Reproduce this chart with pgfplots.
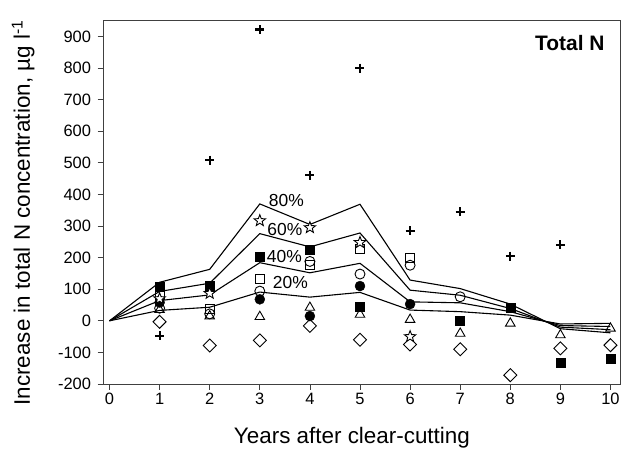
\documentclass[border=0pt]{standalone}
\usepackage{fontspec}
\setmainfont{Liberation Sans}
\usepackage{pgfplots}
\pgfplotsset{compat=1.18}
% open five-pointed star
\pgfdeclareplotmark{ostar}{%
  \pgfpathmoveto{\pgfpointpolar{90}{\pgfplotmarksize}}%
  \pgfpathlineto{\pgfpointpolar{126}{0.42\pgfplotmarksize}}%
  \pgfpathlineto{\pgfpointpolar{162}{\pgfplotmarksize}}%
  \pgfpathlineto{\pgfpointpolar{198}{0.42\pgfplotmarksize}}%
  \pgfpathlineto{\pgfpointpolar{234}{\pgfplotmarksize}}%
  \pgfpathlineto{\pgfpointpolar{270}{0.42\pgfplotmarksize}}%
  \pgfpathlineto{\pgfpointpolar{306}{\pgfplotmarksize}}%
  \pgfpathlineto{\pgfpointpolar{342}{0.42\pgfplotmarksize}}%
  \pgfpathlineto{\pgfpointpolar{18}{\pgfplotmarksize}}%
  \pgfpathlineto{\pgfpointpolar{54}{0.42\pgfplotmarksize}}%
  \pgfpathclose
  \pgfusepathqfillstroke}
\begin{document}
\begin{tikzpicture}
\path[use as bounding box] (0bp,0bp) rectangle (621bp,454bp);
\begin{axis}[
  at={(103.5bp,70bp)}, anchor=south west, scale only axis,
  width=516.5bp, height=363.3bp,
  xmin=-0.12, xmax=10.19, ymin=-200, ymax=950,
  xtick={0,...,10}, ytick={-200,-100,...,900},
  tick align=outside, tick pos=left, major tick length=6bp,
  axis line style={black!75, line width=0.8bp},
  tick style={black!75, line width=0.8bp},
  /pgf/number format/assume math mode=true,
  ticklabel style={font=\fontsize{16.5}{18}\selectfont},
  yticklabel style={xshift=-3bp},
  label style={font=\fontsize{22.5}{26}\selectfont},
  xlabel={Years after clear-cutting},
  ylabel={Increase in total N concentration, µg l\textsuperscript{-1}},
  xlabel style={at={(axis description cs:0.481,0)}, anchor=base, yshift=-59bp},
  ylabel style={at={(axis description cs:-0.1423,0.471)}, anchor=base},
  clip=false,
]
% model lines
\addplot[black, line width=1.1bp] coordinates {(0,0)(1,122)(2,163)(3,370)(4,305)(5,369)(6,129)(7,102)(8,53)(9,-25)(10,-38)};
\addplot[black, line width=1.1bp] coordinates {(0,0)(1,93)(2,119)(3,276)(4,234)(5,278)(6,97)(7,81)(8,39)(9,-20)(10,-28)};
\addplot[black, line width=1.1bp] coordinates {(0,0)(1,64)(2,82)(3,184)(4,152)(5,182)(6,60)(7,57)(8,29)(9,-15)(10,-18)};
\addplot[black, line width=1.1bp] coordinates {(0,0)(1,33)(2,43)(3,91)(4,75)(5,90)(6,34)(7,29)(8,18)(9,-10)(10,-8)};
% observations
\addplot[only marks, mark=square, mark size=4.6bp, mark options={rotate=45, fill=white, line width=0.9bp}] coordinates {(1,-3)(2,-78)(3,-62)(4,-16)(5,-60)(6,-75)(7,-90)(8,-172)(9,-87)(10,-77)};
\addplot[only marks, mark=triangle, mark size=5.5bp, mark options={fill=white, line width=0.9bp}] coordinates {(1,35)(2,15)(3,13)(4,42)(5,20)(6,4)(7,-40)(8,-8)(9,-45)(10,-24)};
\addplot[only marks, mark=*, mark size=5bp, mark options={fill=black}] coordinates {(1,58)(3,68)(4,15)(5,110)(6,53)};
\addplot[only marks, mark=o, mark size=5bp, mark options={fill=white, line width=0.9bp}] coordinates {(1,40)(2,22)(3,94)(4,188)(5,148)(6,176)(7,76)};
\addplot[only marks, mark=square, mark size=4.5bp, mark options={fill=white, line width=0.9bp}] coordinates {(1,82)(2,37)(3,132)(4,176)(5,226)(6,200)};
\addplot[only marks, mark=square*, mark size=4.5bp, mark options={fill=black}] coordinates {(1,108)(2,110)(3,203)(4,226)(5,44)(7,0)(8,42)(9,-133)(10,-119)};
\addplot[only marks, mark=ostar, mark size=6bp, mark options={fill=white, line width=0.9bp}] coordinates {(1,70)(2,87)(3,317)(4,295)(5,248)(6,-50)};
\addplot[only marks, mark=+, mark size=4.5bp, mark options={line width=2.2bp}] coordinates {(1,-48)(2,509)(3,922)(4,461)(5,800)(6,285)(7,345)(8,205)(9,240)};
% line labels
\node[anchor=base, font=\fontsize{17.5}{20}\selectfont] at (axis cs:3.53,363) {80\%};
\node[anchor=base, font=\fontsize{17.5}{20}\selectfont] at (axis cs:3.50,271) {60\%};
\node[anchor=base, font=\fontsize{17.5}{20}\selectfont] at (axis cs:3.49,184) {40\%};
\node[anchor=base, font=\fontsize{17.5}{20}\selectfont] at (axis cs:3.61,102) {20\%};
\node[anchor=base east, font=\bfseries\fontsize{21}{24}\selectfont] at (rel axis cs:0.9768,0.919) {Total N};
\end{axis}
\end{tikzpicture}
\end{document}
